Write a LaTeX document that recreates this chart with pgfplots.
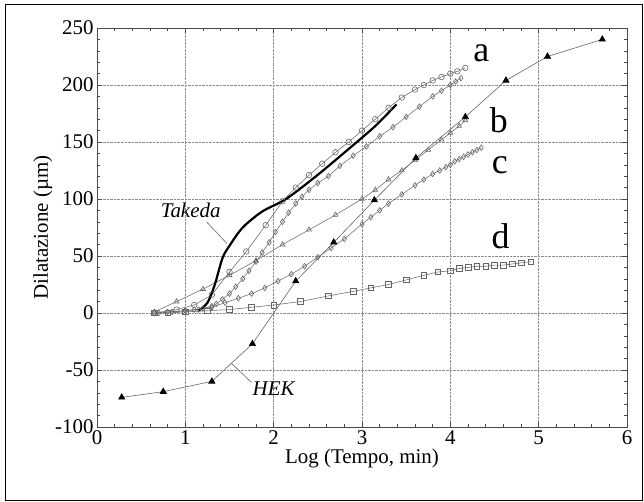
\documentclass[border=0pt]{standalone}
\usepackage{fontspec}
\setmainfont{Liberation Serif}
\usepackage{pgfplots}
\pgfplotsset{compat=1.18}

\begin{document}
\begin{tikzpicture}
\useasboundingbox (-97bp,-75bp) rectangle (547bp,427bp);
\draw[line width=1bp] (-91bp,-73bp) rectangle (545bp,422bp);
\begin{axis}[
    at={(0,0)}, anchor=south west,
    scale only axis, width=530bp, height=399bp,
    xmin=0, xmax=6, ymin=-100, ymax=250,
    xtick={0,...,6}, ytick={-100,-50,...,250},
    minor x tick num=4, minor y tick num=4,
    tick align=inside, tick pos=both,
    major tick length=5bp, minor tick length=3bp,
    grid=major, major grid style={densely dotted, black!45},
    axis line style={black!70},
    every tick/.style={black!70},
    tick label style={font=\fontsize{21}{24}\selectfont},
    /pgf/number format/assume math mode=true,
    xlabel={Log (Tempo, min)},
    ylabel={Dilatazione (µm)},
    label style={font=\fontsize{21}{24}\selectfont},
    xlabel style={yshift=2bp},
    ylabel style={yshift=-4bp},
    clip=false,
    every axis plot/.append style={line width=0.6bp},
    mark size=2.8bp,
]
% d
\addplot[black!55, mark=square, mark options={solid, black!60, fill=black!8}] coordinates {
(0.65,0) (0.8,0) (1.0,1) (1.25,2) (1.5,3) (1.75,5) (2.0,7) (2.3,10) (2.62,15) (2.9,19) (3.1,22)
(3.3,25) (3.5,29) (3.7,33) (3.86,36) (4.0,37) (4.1,39) (4.2,40) (4.3,41) (4.4,41) (4.5,42)
(4.6,42) (4.7,43) (4.8,44) (4.91,45)};
% c
\addplot[black!55, mark=diamond, mark options={solid, black!60, fill=black!15}] coordinates {
(0.65,0) (0.8,1) (1.0,2) (1.15,3) (1.3,5) (1.45,9) (1.6,13) (1.75,17) (1.9,22) (2.05,28) (2.2,34)
(2.35,41) (2.5,49) (2.65,57) (2.8,65) (3.0,78) (3.1,84) (3.2,90) (3.3,96) (3.45,104) (3.6,112)
(3.7,117) (3.8,122) (3.88,125) (3.95,128) (4.0,130) (4.05,133) (4.1,135) (4.15,137) (4.2,139)
(4.25,141) (4.3,143) (4.35,145)};
% b
\addplot[black!55, mark=triangle, mark options={solid, black!60, fill=white}] coordinates {
(0.65,1) (0.9,10) (1.2,21) (1.5,33) (1.8,46) (2.1,60) (2.4,73) (2.7,86) (3.0,100) (3.15,108)
(3.3,117) (3.45,125) (3.6,134) (3.75,143) (3.9,152) (4.0,158) (4.1,164) (4.17,169)};
% a (lower)
\addplot[black!55, mark=diamond, mark options={solid, black!60, fill=black!15}] coordinates {
(0.7,0) (0.85,1) (1.0,2) (1.1,3) (1.2,4) (1.3,6) (1.35,8) (1.42,12) (1.5,17) (1.57,23) (1.65,30)
(1.72,37) (1.8,45) (1.87,53) (1.95,62) (2.02,71) (2.1,80) (2.17,88) (2.25,96) (2.32,102) (2.4,108)
(2.5,114) (2.62,120) (2.75,129) (2.9,138) (3.05,146) (3.2,155) (3.35,163) (3.5,172) (3.65,181)
(3.8,190) (3.9,195) (4.0,200) (4.06,203) (4.12,206)};
% a (upper)
\addplot[black!55, mark=o, mark options={solid, black!60, fill=white}] coordinates {
(0.65,0) (0.9,3) (1.1,7) (1.3,16) (1.5,36) (1.69,54) (1.91,77) (2.1,98) (2.25,110) (2.4,121)
(2.55,131) (2.7,141) (2.85,150) (3.0,160) (3.15,170) (3.3,180) (3.45,189) (3.6,196) (3.7,200)
(3.8,204) (3.9,207) (4.0,210) (4.08,212) (4.17,215)};
% HEK
\addplot[black!60, mark=triangle*, mark size=3.6bp, mark options={solid, black}] coordinates {
(0.28,-74) (0.75,-69) (1.30,-60) (1.76,-27) (2.25,28) (2.68,62) (3.14,99) (3.61,136)
(4.17,172) (4.63,204) (5.10,225) (5.72,240)};
% Takeda
\addplot[black, line width=2.2bp, no marks, smooth] coordinates {
(1.15,2) (1.25,9) (1.33,24) (1.42,48) (1.50,59) (1.65,75) (1.87,89) (2.14,100)
(2.48,120) (2.82,142) (3.15,164) (3.39,183)};

\node[font=\fontsize{36}{40}\selectfont] at (axis cs:4.35,228) {a};
\node[font=\fontsize{36}{40}\selectfont] at (axis cs:4.55,169) {b};
\node[font=\fontsize{36}{40}\selectfont] at (axis cs:4.56,130) {c};
\node[font=\fontsize{36}{40}\selectfont] at (axis cs:4.57,67) {d};
\node[font=\fontsize{21}{24}\selectfont\itshape] at (axis cs:1.06,90) {Takeda};
\node[font=\fontsize{21}{24}\selectfont\itshape] at (axis cs:2.0,-66) {HEK};
\draw[black!60, line width=0.6bp] (axis cs:1.24,80) -- (axis cs:1.47,61);
\draw[black!60, line width=0.6bp] (axis cs:1.52,-44) -- (axis cs:1.75,-61);
\end{axis}
\end{tikzpicture}
\end{document}
